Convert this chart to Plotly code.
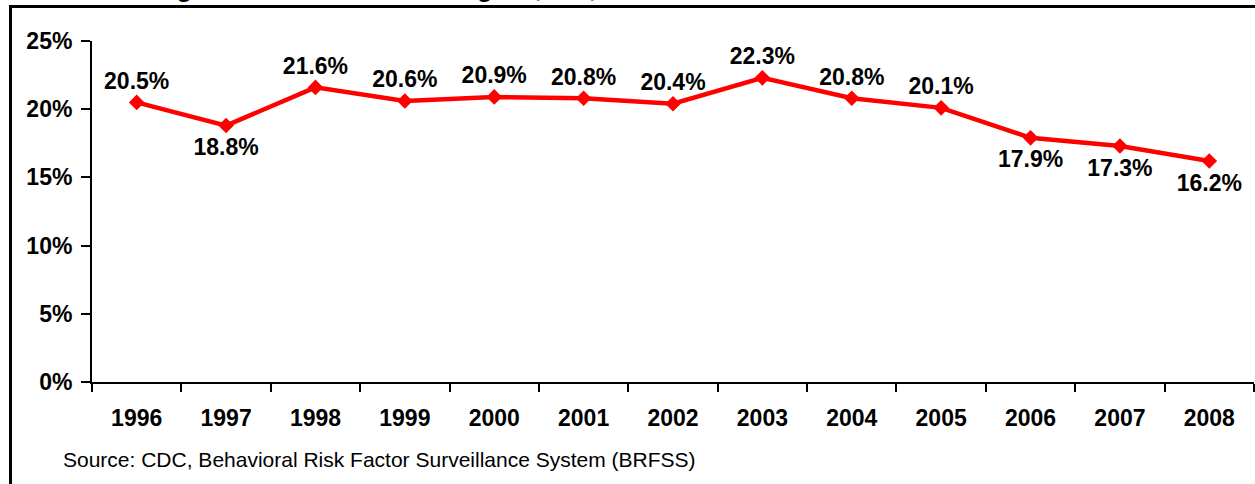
import plotly.graph_objects as go

years = ["1996", "1997", "1998", "1999", "2000", "2001", "2002",
         "2003", "2004", "2005", "2006", "2007", "2008"]
prevalence = [20.5, 18.8, 21.6, 20.6, 20.9, 20.8, 20.4,
              22.3, 20.8, 20.1, 17.9, 17.3, 16.2]
label_side = ["top", "bottom", "top", "top", "top", "top", "top",
              "top", "top", "top", "bottom", "bottom", "bottom"]

title_text = "Adult Smoking Prevalence in Washington, DC, 1996-2008"
source_text = "Source: CDC, Behavioral Risk Factor Surveillance System (BRFSS)"

FONT = "Liberation Sans, Arial, sans-serif"
W, H = 1255, 484
L, R, T, B = 92, 1, 41, 102
PW, PH = W - L - R, H - T - B


def px_x(px):
    return (px - L) / PW


def px_y(py):
    return (H - B - py) / PH


fig = go.Figure()

# red line with diamond markers
fig.add_trace(go.Scatter(
    x=years,
    y=prevalence,
    mode="lines+markers",
    line=dict(color="#FF0000", width=4.5),
    marker=dict(symbol="diamond", size=12, color="#FF0000"),
    showlegend=False,
    hoverinfo="skip",
))

# value labels, above or below each point
for side, pad in (("top", 11), ("bottom", 18)):
    idx = [i for i, s in enumerate(label_side) if s == side]
    fig.add_trace(go.Scatter(
        x=[years[i] for i in idx],
        y=[prevalence[i] for i in idx],
        mode="markers+text",
        marker=dict(size=pad, opacity=0),
        text=[f"{prevalence[i]:.1f}%" for i in idx],
        textposition=f"{side} center",
        textfont=dict(family=FONT, size=23, color="black", weight="bold"),
        cliponaxis=False,
        showlegend=False,
    ))

fig.update_layout(
    width=W, height=H,
    margin=dict(l=L, r=R, t=T, b=B),
    paper_bgcolor="white",
    plot_bgcolor="white",
    font=dict(family=FONT, color="black"),
    xaxis=dict(
        type="category",
        tickson="boundaries",
        ticks="outside",
        ticklen=8,
        tickwidth=2,
        tickcolor="black",
        showline=True,
        linecolor="black",
        linewidth=2,
        showgrid=False,
        tickfont=dict(family=FONT, size=23, color="black", weight="bold"),
        ticklabelstandoff=14,
        range=[-0.5, 12.5],
    ),
    yaxis=dict(
        range=[0, 25],
        dtick=5,
        ticksuffix="%",
        ticks="outside",
        ticklen=9,
        tickwidth=2,
        tickcolor="black",
        showline=True,
        linecolor="black",
        linewidth=2,
        showgrid=False,
        zeroline=False,
        tickfont=dict(family=FONT, size=23, color="black", weight="bold"),
        ticklabelstandoff=4,
    ),
    shapes=[dict(
        type="rect", xref="paper", yref="paper",
        x0=px_x(10.5), x1=px_x(W + 10),
        y0=px_y(H + 10), y1=px_y(6.5),
        line=dict(color="black", width=3),
        fillcolor="rgba(0,0,0,0)",
        layer="above",
    )],
    annotations=[
        dict(
            text=title_text, xref="paper", yref="paper",
            x=px_x(0), y=px_y(4), xanchor="left", yanchor="bottom",
            showarrow=False,
            font=dict(family=FONT, size=27, color="black", weight="bold"),
        ),
        dict(
            text=source_text, xref="paper", yref="paper",
            x=px_x(61), y=px_y(459), xanchor="left", yanchor="middle",
            showarrow=False,
            font=dict(family=FONT, size=21, color="black"),
        ),
    ],
)

fig.write_html("out.html")
